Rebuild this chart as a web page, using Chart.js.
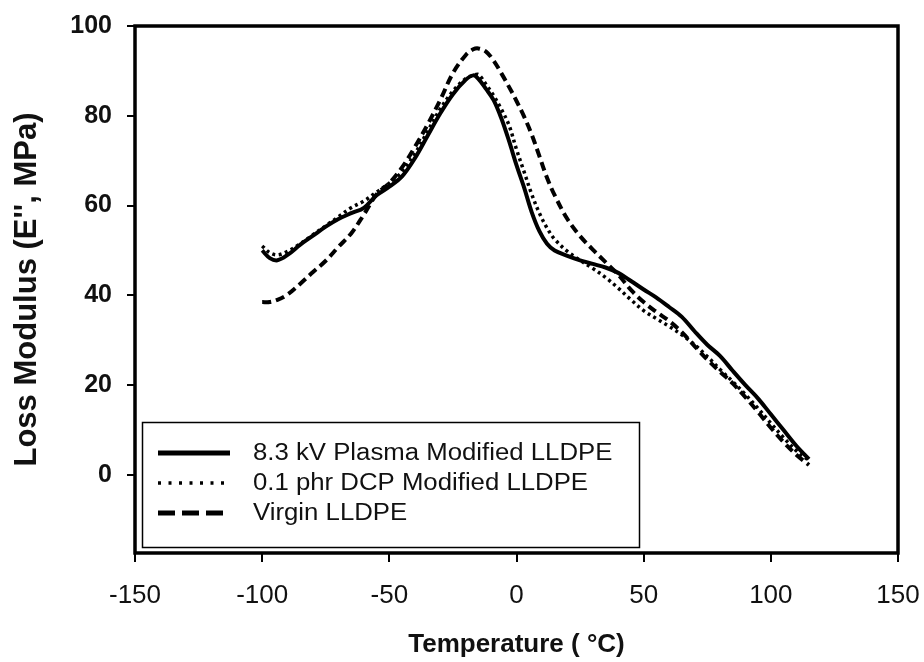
<!DOCTYPE html>
<html>
<head>
<meta charset="utf-8">
<script src="https://cdn.jsdelivr.net/npm/chart.js@4.4.1/dist/chart.umd.min.js"></script>
<style>
html,body{margin:0;padding:0;background:#fff;}
canvas{display:block;}
</style>
</head>
<body>
<canvas id="c" width="924" height="662"></canvas>
<script>
// Temperature (°C)
const temps = [-100,-97,-94,-90,-85,-80,-75,-70,-65,-60,-55,-50,-45,-40,-35,-30,-25,-20,-17,-15,-12,-9,-6,-3,0,3,6,9,12,15,20,25,30,35,40,45,50,55,60,65,70,75,80,85,90,95,100,105,110,115];
// Loss modulus E'' (MPa)
const plasmaValues = [50,48.3,47.8,49,51.3,53.3,55.3,57,58.3,59.5,62.3,64.2,66.5,70.5,75.5,80.5,84.8,88,89,88.2,86,83.5,79.5,74.5,69,64,58.5,54.3,51.5,50,48.8,47.8,47,46.2,45,43.2,41.3,39.5,37.4,35.2,32,29,26.5,23.2,20,17,13.5,10,6.5,3.5];
const dcpValues = [51,49.5,49,49.8,51.5,53.5,55.5,57.5,59.5,61,63,65,67.5,71.5,76.5,81.5,85.5,88.3,89,89.2,87,84.5,81.5,78,72.5,67.5,62.5,58.3,55,52.5,49.8,47.8,46,44,41.6,39,36.6,34.8,33.1,31.2,29,26.4,23.5,20.8,17.9,14.8,11.5,8.3,5.4,3.2];
const virginValues = [38.5,38.5,39,40.2,42.6,45.2,47.7,50.8,53.8,58,62.5,65,68.5,73,78,83.5,89.5,93.5,94.8,95,94.3,92.3,89.5,86.5,83.3,79.8,75.8,71,66.2,62.3,57,53.2,50.2,47.4,44.6,41.2,38.5,36.3,34.3,31.8,28.7,25.7,23,20.4,17.3,14,10.5,7.3,4.5,2.2];
const seriesLabels = ["8.3 kV Plasma Modified LLDPE","0.1 phr DCP Modified LLDPE","Virgin LLDPE"];
const xTicks = [-150,-100,-50,0,50,100,150];
const yTicks = [0,20,40,60,80,100];
const xTitle = "Temperature ( \u00B0C)";
const yTitle = "Loss Modulus (E'', MPa)";

const toPts = vals => temps.map((t,i)=>({x:t,y:vals[i]}));

const legendStyles = [
  {dash:[], width:5},
  {dash:[3,7.5], width:3.5},
  {dash:[17,7], width:5}
];

const framePlugin = {
  id:'frame',
  afterDraw(chart){
    const ctx = chart.ctx, a = chart.chartArea;
    ctx.save();
    ctx.strokeStyle = '#000';
    ctx.lineWidth = 3.5;
    ctx.strokeRect(a.left, a.top, a.right - a.left, a.bottom - a.top);
    // legend box
    ctx.lineWidth = 1.5;
    ctx.strokeRect(142.5, 422.5, 497, 125);
    ctx.font = '23px "Liberation Sans", Arial, sans-serif';
    ctx.fillStyle = '#111';
    ctx.textBaseline = 'middle';
    seriesLabels.forEach((lab, i) => {
      const y = 453 + 30 * i;
      const st = legendStyles[i];
      ctx.beginPath();
      ctx.setLineDash(st.dash);
      ctx.lineWidth = st.width;
      ctx.lineCap = 'butt';
      ctx.moveTo(158, y);
      ctx.lineTo(230, y);
      ctx.stroke();
      ctx.setLineDash([]);
      ctx.save();
      ctx.translate(253, y + 1);
      ctx.scale(1.12, 1);
      ctx.fillText(lab, 0, 0);
      ctx.restore();
    });
    ctx.restore();
  }
};

new Chart(document.getElementById('c'), {
  type: 'line',
  data: {
    datasets: [
      {label: seriesLabels[0], data: toPts(plasmaValues), borderColor:'#000', borderWidth:4, borderDash:[], pointRadius:0, tension:0.35, fill:false},
      {label: seriesLabels[1], data: toPts(dcpValues), borderColor:'#000', borderWidth:3.5, borderDash:[3,3.5], pointRadius:0, tension:0.35, fill:false},
      {label: seriesLabels[2], data: toPts(virginValues), borderColor:'#000', borderWidth:4, borderDash:[9,5], pointRadius:0, tension:0.35, fill:false}
    ]
  },
  options: {
    responsive: false,
    animation: false,
    devicePixelRatio: 1,
    layout: {padding: {top: 26, right: 26, left: 0, bottom: 0}},
    plugins: {legend: {display: false}, tooltip: {enabled: false}},
    scales: {
      x: {
        type: 'linear', min: -150, max: 150,
        afterBuildTicks: s => { s.ticks = xTicks.map(v => ({value: v})); },
        afterFit: s => { s.height = 109; s.paddingLeft = 0; s.paddingRight = 0; },
        grid: {drawOnChartArea: false, drawTicks: true, tickLength: 9, color: '#000', lineWidth: 2},
        border: {display: false},
        ticks: {color: '#111', padding: 18, maxRotation: 0, font: {family: '"Liberation Sans", Arial, sans-serif', size: 26}},
        title: {display: true, text: xTitle, color: '#111', padding: {top: 0, bottom: 2}, font: {family: '"Liberation Sans", Arial, sans-serif', size: 26, weight: 'bold'}}
      },
      y: {
        type: 'linear', min: -17.4, max: 100,
        afterBuildTicks: s => { s.ticks = yTicks.map(v => ({value: v})); },
        afterFit: s => { s.width = 135; s.paddingTop = 0; s.paddingBottom = 0; },
        grid: {drawOnChartArea: false, drawTicks: true, tickLength: 8, color: '#000', lineWidth: 2},
        border: {display: false},
        ticks: {color: '#111', padding: 15, font: {family: '"Liberation Sans", Arial, sans-serif', size: 25, weight: 'bold'}},
        title: {display: true, text: yTitle, color: '#111', padding: {top: 9, bottom: 0}, font: {family: '"Liberation Sans", Arial, sans-serif', size: 31, weight: 'bold'}}
      }
    }
  },
  plugins: [framePlugin]
});
</script>
</body>
</html>
